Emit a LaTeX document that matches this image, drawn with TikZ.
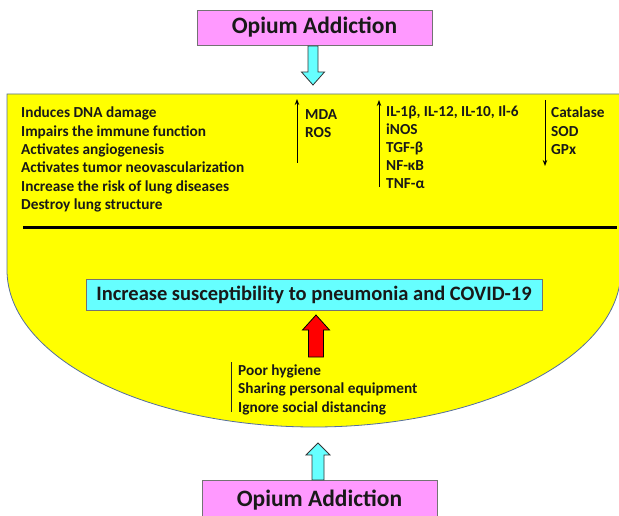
\documentclass[tikz,border=0pt]{standalone}
\usepackage{fontspec}
\setmainfont{Carlito}
\usetikzlibrary{calc,arrows.meta}
\definecolor{pinkbox}{RGB}{255,153,255}
\definecolor{cyanfill}{RGB}{102,255,255}
\definecolor{yellowfill}{RGB}{255,255,0}
\definecolor{outlineblue}{RGB}{84,110,160}
\definecolor{redfill}{RGB}{255,0,0}
\definecolor{txt}{RGB}{25,25,25}
% #1 style, #2 base coordinate, #3 tip coordinate, #4 shaft half width, #5 head half width, #6 head length
\newcommand\blockarrow[6]{%
  \coordinate (bah) at ($(#3)!#6!(#2)$);
  \path[#1] ($(#2)!#4!90:(#3)$) -- ($(bah)!#4!90:(#3)$) -- ($(bah)!#5!90:(#3)$) -- (#3)
    -- ($(bah)!#5!-90:(#3)$) -- ($(bah)!#4!-90:(#3)$) -- ($(#2)!#4!-90:(#3)$) -- cycle;
}
\begin{document}
\begin{tikzpicture}[x=1pt,y=-1pt,
  titlebox/.style={draw=black!55, line width=0.8pt, fill=pinkbox, minimum width=235pt,
    minimum height=35pt, inner sep=0pt, text=txt, font=\fontsize{23.5}{28}\selectfont\bfseries},
  resultbox/.style={draw=black!55, line width=0.8pt, fill=cyanfill, minimum width=456pt,
    minimum height=31pt, inner sep=0pt, text=txt, font=\fontsize{20.5}{24}\selectfont\bfseries},
  itemtext/.style={anchor=base west, inner sep=0pt, text=txt, font=\fontsize{15.3}{18}\selectfont\bfseries},
  thinarrow/.style={line width=1pt, -{Stealth[length=6pt,width=4.5pt]}},
  cyanarrow/.style={fill=cyanfill, draw=black!80, line width=0.8pt, line join=miter},
  redarrow/.style={fill=redfill, draw=black, line width=0.8pt, line join=miter},
  yellowshape/.style={fill=yellowfill, draw=outlineblue, line width=0.8pt}
]
\useasboundingbox (0,0) rectangle (619,516);

% yellow region
\path[yellowshape] (7,94) -- (621,94) -- (621,270)
  arc[start angle=0, end angle=180, x radius=307, y radius=157] -- cycle;

% separating line
\coordinate (sepL) at (23,227.5);
\coordinate (sepR) at (617,227.5);
\draw[line width=2.6pt, black] (sepL) -- (sepR);

% top box and arrow
\node[titlebox] (top) at (314.5,27.5) {Opium Addiction};
\coordinate (a1s) at (313,46);
\coordinate (a1t) at (313,85);
\blockarrow{cyanarrow}{a1s}{a1t}{5pt}{11.5pt}{13pt}

% left column
\node[itemtext] (l1) at (21,118) {Induces DNA damage};
\node[itemtext] (l2) at (21,137) {Impairs the immune function};
\node[itemtext] (l3) at (21,155) {Activates angiogenesis};
\node[itemtext] (l4) at (21,173) {Activates tumor neovascularization};
\node[itemtext] (l5) at (21,192) {Increase the risk of lung diseases};
\node[itemtext] (l6) at (21,210) {Destroy lung structure};

% MDA / ROS
\coordinate (u1b) at (297,163);
\coordinate (u1t) at (297,99);
\draw[thinarrow] (u1b) -- (u1t);
\node[itemtext] (m1) at (305,120) {MDA};
\node[itemtext] (m2) at (305,138) {ROS};

% cytokines
\coordinate (u2b) at (379,187);
\coordinate (u2t) at (379,100);
\draw[thinarrow] (u2b) -- (u2t);
\node[itemtext] (c1) at (386,117) {IL-1β, IL-12, IL-10, Il-6};
\node[itemtext] (c2) at (386,135) {iNOS};
\node[itemtext] (c3) at (386,153) {TGF-β};
\node[itemtext] (c4) at (386,171) {NF-κB};
\node[itemtext] (c5) at (386,189) {TNF-α};

% antioxidants
\coordinate (d1t) at (545,100);
\coordinate (d1b) at (545,166);
\draw[thinarrow] (d1t) -- (d1b);
\node[itemtext] (e1) at (551,118) {Catalase};
\node[itemtext] (e2) at (551,137) {SOD};
\node[itemtext] (e3) at (551,155) {GPx};

% result box
\node[resultbox] (res) at (314,294.5) {Increase susceptibility to pneumonia and COVID-19};

% red arrow
\coordinate (r1s) at (316,357);
\coordinate (r1t) at (316,315);
\blockarrow{redarrow}{r1s}{r1t}{7.5pt}{13.5pt}{15pt}

% behaviours
\coordinate (v1t) at (231,362);
\coordinate (v1b) at (231,412);
\draw[line width=1pt, black!85] (v1t) -- (v1b);
\node[itemtext] (b1) at (238,375) {Poor hygiene};
\node[itemtext] (b2) at (238,393) {Sharing personal equipment};
\node[itemtext] (b3) at (238,412) {Ignore social distancing};

% bottom box and arrow
\node[titlebox, minimum height=40pt] (bot) at (319.5,500) {Opium Addiction};
\coordinate (a2s) at (318,480);
\coordinate (a2t) at (318,443);
\blockarrow{cyanarrow}{a2s}{a2t}{6pt}{12pt}{12pt}
\end{tikzpicture}
\end{document}
